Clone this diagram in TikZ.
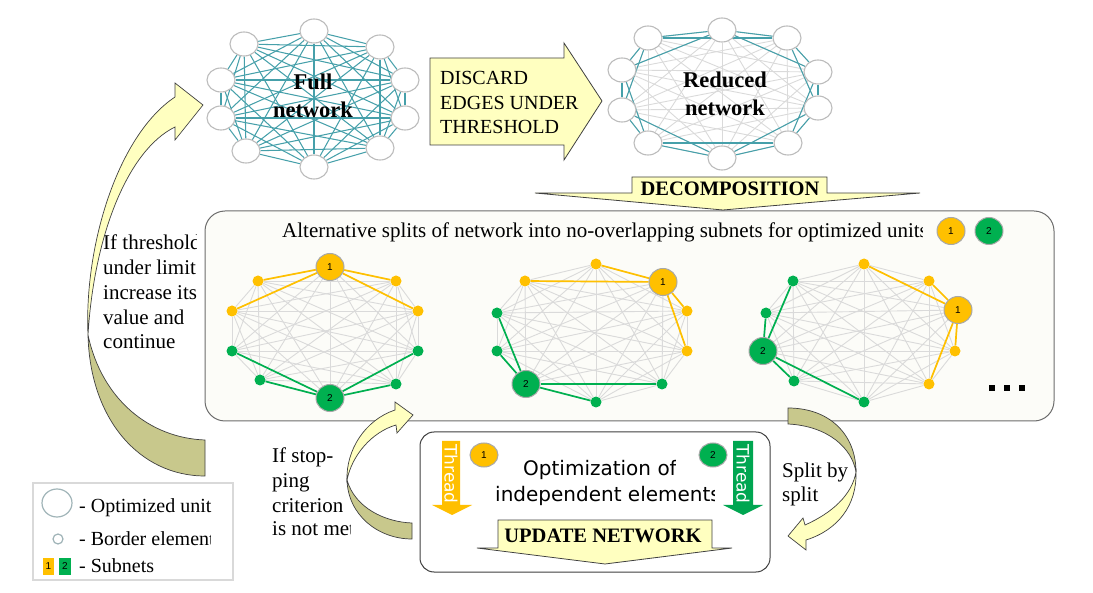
\documentclass[tikz,border=0pt]{standalone}
\usepackage{fontspec}
\setmainfont{Liberation Serif}
\newfontfamily\dvsans{DejaVu Sans}
\newfontfamily\lsans{Liberation Sans}
\usetikzlibrary{shapes.geometric}
\definecolor{tealE}{HTML}{46A0AA}
\definecolor{greyE}{HTML}{DADADA}
\definecolor{nodeB}{HTML}{BCBCBC}
\definecolor{uY}{HTML}{FFC000}
\definecolor{uG}{HTML}{00B050}
\definecolor{thY}{HTML}{FFBF00}
\definecolor{thG}{HTML}{00A651}
\definecolor{paleY}{HTML}{FFFFC0}
\definecolor{oliveD}{HTML}{C8C88C}
\definecolor{panelF}{HTML}{FCFCF8}
\definecolor{lineD}{HTML}{404040}
\definecolor{legB}{HTML}{A0B4B8}
\definecolor{badgeB}{HTML}{A8A8A8}
\pgfdeclarelayer{bg}
\pgfdeclarelayer{edges}
\pgfsetlayers{bg,edges,main}
\newcommand\completegraph[2]{%
  \foreach \i in {0,...,8}{%
    \pgfmathtruncatemacro\s{\i+1}%
    \foreach \j in {\s,...,9}{\draw[#2] (#1\i)--(#1\j);}}}
\begin{document}
\begin{tikzpicture}[x=1pt,y=-1pt,
  netnode/.style={ellipse,draw=nodeB,line width=1.1pt,fill=white,minimum width=28pt,minimum height=24pt,inner sep=0pt},
  ybig/.style={ellipse,draw=badgeB,line width=1pt,fill=uY,minimum width=28pt,minimum height=27pt,inner sep=0pt,font=\lsans\fontsize{10}{12}\selectfont},
  gbig/.style={ybig,fill=uG},
  ysm/.style={circle,fill=uY,minimum size=11pt,inner sep=0pt},
  gsm/.style={circle,fill=uG,minimum size=11pt,inner sep=0pt},
  tealedge/.style={draw=tealE,line width=1.05pt},
  greyedge/.style={draw=greyE,line width=0.9pt},
  yedge/.style={draw=uY,line width=1.7pt},
  gedge/.style={draw=uG,line width=1.7pt},
  blockarrow/.style={fill=paleY,draw=lineD,line width=0.8pt,line join=miter},
  curvelight/.style={fill=paleY,draw=lineD,line width=0.7pt},
  curvedark/.style={fill=oliveD,draw=lineD,line width=0.7pt},
  txt/.style={inner sep=0pt,anchor=base west,font=\fontsize{21}{25}\selectfont},
  legtxt/.style={inner sep=0pt,anchor=base west,font=\fontsize{20}{24}\selectfont},
  capstxt/.style={inner sep=0pt,anchor=base west,font=\fontsize{20}{24}\selectfont},
  bigbold/.style={inner sep=0pt,anchor=base,font=\bfseries\fontsize{22.5}{27}\selectfont},
  arrbold/.style={inner sep=0pt,anchor=base,font=\bfseries\fontsize{20.5}{24}\selectfont},
  sanstxt/.style={inner sep=0pt,anchor=base west,font=\dvsans\fontsize{20}{24}\selectfont},
  threadtxt/.style={inner sep=0pt,rotate=-90,text=white,font=\dvsans\fontsize{17}{19}\selectfont},
  dotsq/.style={fill=black,minimum size=6pt,inner sep=0pt}
]
\useasboundingbox (0,0) rectangle (1093,593);

% ---------- Full network ----------
\node[netnode] (f0) at (314,31) {};
\node[netnode] (f1) at (380,47) {};
\node[netnode] (f2) at (405,80) {};
\node[netnode] (f3) at (405,118) {};
\node[netnode] (f4) at (380,148) {};
\node[netnode] (f5) at (314,167) {};
\node[netnode] (f6) at (246,151) {};
\node[netnode] (f7) at (221,118) {};
\node[netnode] (f8) at (221,80) {};
\node[netnode] (f9) at (244,44) {};
\begin{pgfonlayer}{edges}
  \completegraph{f}{tealedge}
\end{pgfonlayer}
\node[bigbold] (fullt1) at (313,90) {Full};
\node[bigbold] (fullt2) at (313,118) {network};

% ---------- Reduced network ----------
\node[netnode] (r0) at (722,30) {};
\node[netnode] (r1) at (787,38) {};
\node[netnode] (r2) at (818,72) {};
\node[netnode] (r3) at (818,108) {};
\node[netnode] (r4) at (788,143) {};
\node[netnode] (r5) at (722,158) {};
\node[netnode] (r6) at (648,143) {};
\node[netnode] (r7) at (622,110) {};
\node[netnode] (r8) at (622,70) {};
\node[netnode] (r9) at (648,38) {};
\begin{pgfonlayer}{edges}
  \completegraph{r}{greyedge}
  \foreach \i in {0,...,9}{%
    \pgfmathtruncatemacro\a{mod(\i+1,10)}%
    \pgfmathtruncatemacro\b{mod(\i+2,10)}%
    \draw[tealedge] (r\i)--(r\a);
    \draw[tealedge] (r\i)--(r\b);}
\end{pgfonlayer}
\node[bigbold] (redt1) at (725,88) {Reduced};
\node[bigbold] (redt2) at (725,116) {network};

% ---------- DISCARD arrow ----------
\draw[blockarrow] (430,58) -- (564,58) -- (564,43) -- (602,101) -- (564,160) -- (564,145) -- (430,145) -- cycle;
\node[capstxt] (disc1) at (440,85) {DISCARD};
\node[capstxt] (disc2) at (440,110) {EDGES UNDER};
\node[capstxt] (disc3) at (440,134) {THRESHOLD};

% ---------- big panel ----------
\begin{pgfonlayer}{bg}
  \draw[draw=gray!85!black,fill=panelF,line width=1pt,rounded corners=20pt] (205,211) rectangle (1054,421);
\end{pgfonlayer}

% ---------- DECOMPOSITION arrow ----------
\draw[blockarrow] (632,177) -- (827,177) -- (827,193) -- (920,193) -- (723,210) -- (535,193) -- (632,193) -- cycle;
\node[arrbold] (decomp) at (730,196) {DECOMPOSITION};

% ---------- panel title ----------
\begin{scope}
  \clip (200,200) rectangle (922,260);
  \node[txt] (title) at (282,238) {Alternative splits of network into no-overlapping subnets for optimized units};
\end{scope}
\node[ybig] (tb1) at (951,231) {1};
\node[gbig] (tb2) at (989,231) {2};

% ---------- subnet A ----------
\node[ybig] (a0) at (330,267) {1};
\node[ysm] (a1) at (396,281) {};
\node[ysm] (a2) at (418,311) {};
\node[gsm] (a3) at (418,351) {};
\node[gsm] (a4) at (396,384) {};
\node[gbig] (a5) at (330,398) {2};
\node[gsm] (a6) at (260,380) {};
\node[gsm] (a7) at (232,351) {};
\node[ysm] (a8) at (232,311) {};
\node[ysm] (a9) at (258,281) {};
% ---------- subnet B ----------
\node[ysm] (b0) at (596,264) {};
\node[ybig] (b1) at (663,282) {1};
\node[ysm] (b2) at (687,311) {};
\node[ysm] (b3) at (687,351) {};
\node[gsm] (b4) at (662,384) {};
\node[gsm] (b5) at (596,402) {};
\node[gbig] (b6) at (526,384) {2};
\node[gsm] (b7) at (497,351) {};
\node[gsm] (b8) at (497,313) {};
\node[ysm] (b9) at (525,281) {};
% ---------- subnet C ----------
\node[ysm] (c0) at (864,264) {};
\node[ysm] (c1) at (929,281) {};
\node[ybig] (c2) at (958,310) {1};
\node[ysm] (c3) at (955,351) {};
\node[ysm] (c4) at (929,384) {};
\node[gsm] (c5) at (864,402) {};
\node[gsm] (c6) at (794,381) {};
\node[gbig] (c7) at (763,351) {2};
\node[gsm] (c8) at (766,313) {};
\node[gsm] (c9) at (793,281) {};
\begin{pgfonlayer}{edges}
  \completegraph{a}{greyedge}
  \completegraph{b}{greyedge}
  \completegraph{c}{greyedge}
  \draw[yedge] (a0)--(a9); \draw[yedge] (a0)--(a8); \draw[yedge] (a0)--(a1); \draw[yedge] (a0)--(a2);
  \draw[gedge] (a5)--(a7); \draw[gedge] (a5)--(a6); \draw[gedge] (a5)--(a3); \draw[gedge] (a5)--(a4);
  \draw[yedge] (b1)--(b0); \draw[yedge] (b1)--(b9); \draw[yedge] (b1)--(b2); \draw[yedge] (b1)--(b3);
  \draw[gedge] (b6)--(b8); \draw[gedge] (b6)--(b7); \draw[gedge] (b6)--(b5); \draw[gedge] (b6)--(b4);
  \draw[yedge] (c2)--(c0); \draw[yedge] (c2)--(c1); \draw[yedge] (c2)--(c3); \draw[yedge] (c2)--(c4);
  \draw[gedge] (c7)--(c9); \draw[gedge] (c7)--(c8); \draw[gedge] (c7)--(c6); \draw[gedge] (c7)--(c5);
\end{pgfonlayer}
\node[dotsq] (dot1) at (992,388) {};
\node[dotsq] (dot2) at (1007,388) {};
\node[dotsq] (dot3) at (1022,388) {};

% ---------- left text + big curved arrow ----------
\begin{scope}
  \clip (90,220) rectangle (196,360);
  \node[txt] (lt1) at (103,250) {If threshold};
  \node[txt] (lt2) at (103,274.75) {under limit};
  \node[txt] (lt3) at (103,299.5) {increase its};
  \node[txt] (lt4) at (103,324.25) {value and};
  \node[txt] (lt5) at (103,349) {continue};
\end{scope}
\draw[curvelight] (88,335) .. controls (84,245) and (118,135) .. (175,97) -- (175,83) -- (203,105) -- (175,140) -- (175,127) .. controls (128,150) and (94,235) .. (88,335) -- cycle;
\draw[curvedark] (88,335) .. controls (90,420) and (140,476) .. (205,476) -- (205,440) .. controls (150,438) and (102,400) .. (88,335) -- cycle;

% ---------- bottom panel ----------
\draw[draw=lineD,fill=white,line width=1pt,rounded corners=14pt] (420,432) rectangle (770,572);
\draw[fill=thY,draw=none] (442,441) -- (460,441) -- (460,505) -- (472,505) -- (452,515) -- (432,505) -- (442,505) -- cycle;
\draw[fill=thG,draw=none] (733,441) -- (753,441) -- (753,505) -- (763,505) -- (743,515) -- (723,505) -- (733,505) -- cycle;
\node[threadtxt] (thr1) at (451,474) {Thread};
\node[threadtxt] (thr2) at (743,474) {Thread};
\node[ybig,minimum height=24pt] (bb1) at (484,455) {1};
\node[gbig,minimum height=24pt] (bb2) at (713,455) {2};
\begin{scope}
  \clip (480,440) rectangle (675,490);
  \node[sanstxt] (opt1) at (523,476) {Optimization of};
\end{scope}
\begin{scope}
  \clip (480,480) rectangle (714,515);
  \node[sanstxt] (opt2) at (495,502) {independent elements};
\end{scope}
\draw[blockarrow] (498,520) -- (712,520) -- (712,548) -- (732,548) -- (605,564) -- (477,548) -- (498,548) -- cycle;
\node[arrbold] (upd) at (603,543) {UPDATE NETWORK};

% ---------- stopping criterion loop ----------
\begin{scope}
  \clip (260,430) rectangle (350,550);
  \node[txt] (st1) at (272,463) {If stop-};
  \node[txt] (st2) at (272,487.5) {ping};
  \node[txt] (st3) at (272,512) {criterion};
  \node[txt] (st4) at (272,536) {is not met};
\end{scope}
\draw[curvelight] (347,480) .. controls (346,450) and (365,420) .. (395,410) -- (395,402) -- (413,415) -- (397,433) -- (396,425) .. controls (372,432) and (352,455) .. (347,480) -- cycle;
\draw[curvedark] (347,480) .. controls (348,515) and (378,539) .. (412,539) -- (412,523) .. controls (385,522) and (355,508) .. (347,480) -- cycle;

% ---------- split by split loop ----------
\node[txt] (sp1) at (782,478) {Split by};
\node[txt] (sp2) at (782,502) {split};
\draw[curvedark] (788,408) .. controls (830,408) and (856,435) .. (856,472) .. controls (852,448) and (828,426) .. (788,424) -- cycle;
\draw[curvelight] (856,472) .. controls (857,505) and (838,530) .. (806,540) -- (806,550) -- (788,536) -- (803,518) -- (805,525) .. controls (832,513) and (852,495) .. (856,472) -- cycle;

% ---------- legend ----------
\draw[draw=gray!30,fill=white,line width=1.5pt] (33,483) rectangle (233,580);
\node[ellipse,draw=legB,line width=1.2pt,fill=white,minimum width=30pt,minimum height=28pt,inner sep=0pt] (lg1) at (57,503) {};
\node[circle,draw=legB,line width=1.2pt,fill=white,minimum size=10pt,inner sep=0pt] (lg2) at (58,539) {};
\node[fill=uY,minimum width=11pt,minimum height=17pt,inner sep=0pt,font=\lsans\fontsize{10}{12}\selectfont] (lg3) at (48.5,566.5) {1};
\node[fill=uG,minimum width=12pt,minimum height=17pt,inner sep=0pt,font=\lsans\fontsize{10}{12}\selectfont] (lg4) at (65,566.5) {2};
\node[legtxt] (lgt1) at (79,512) {- Optimized unit};
\begin{scope}
  \clip (70,520) rectangle (210,552);
  \node[legtxt] (lgt2) at (79,545) {- Border element};
\end{scope}
\node[legtxt] (lgt3) at (79,572) {- Subnets};
\end{tikzpicture}
\end{document}
